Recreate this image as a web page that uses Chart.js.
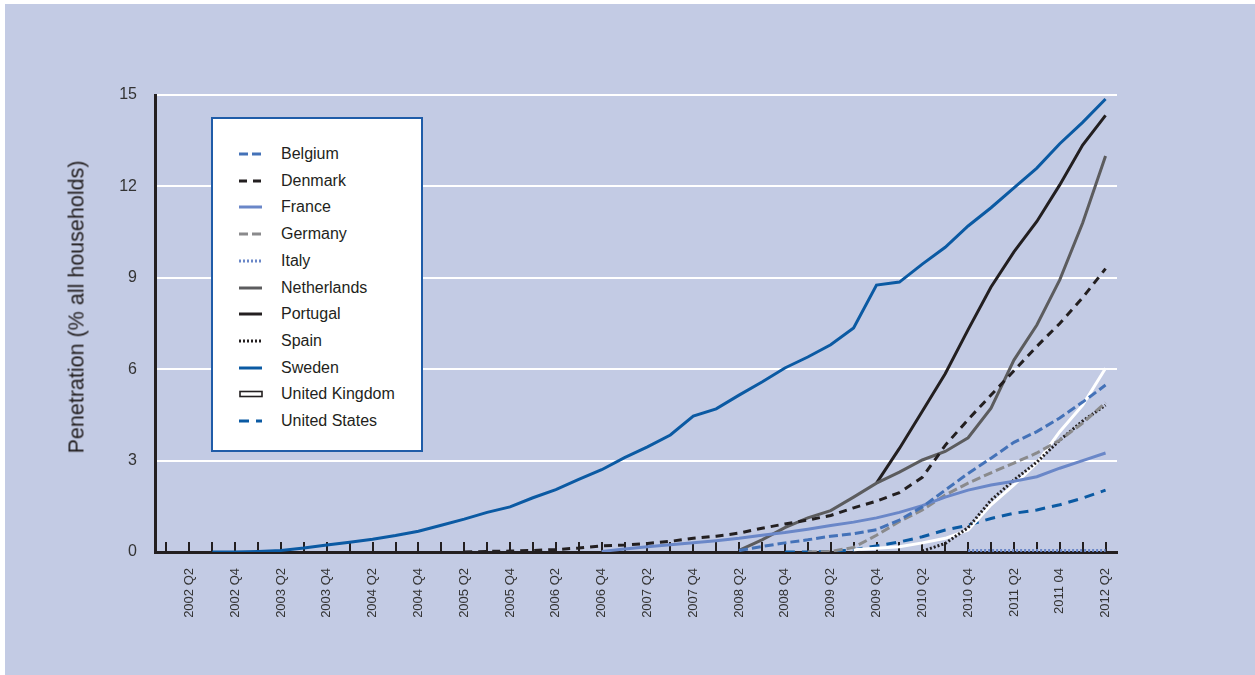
<!DOCTYPE html>
<html>
<head>
<meta charset="utf-8">
<script src="https://cdn.jsdelivr.net/npm/chart.js@4.4.1/dist/chart.umd.min.js"></script>
<style>
  html, body { margin:0; padding:0; background:#ffffff; width:1255px; height:675px; overflow:hidden; }
  #panel { position:absolute; left:5px; top:4px; width:1250px; height:671px; background:#C3CBE4; }
  #c { position:absolute; left:0; top:0; }
  #ytitle { position:absolute; left:77px; top:307px; transform:translate(-50%,-50%) rotate(-90deg);
            font-family:'Liberation Sans', Arial, sans-serif; font-size:21.5px; color:#231F20; white-space:nowrap; }
  #legend { position:absolute; left:211px; top:117px; width:208px; height:331px; background:#ffffff;
            border:2px solid #1F5CA8; font-family:'Liberation Sans', Arial, sans-serif; font-size:16px; color:#231F20; }
  .row { position:absolute; left:0; height:20px; }
  .row svg { position:absolute; left:26px; top:6px; }
  .row span { position:absolute; left:68px; top:0; line-height:20px; white-space:nowrap; }
</style>
</head>
<body>
<div id="panel"></div>
<canvas id="c" width="1255" height="675"></canvas>
<div id="ytitle">Penetration (% all households)</div>
<div id="legend"></div>
<script>
const quarters = [
  '2002 Q1','2002 Q2','2002 Q3','2002 Q4','2003 Q1','2003 Q2','2003 Q3','2003 Q4',
  '2004 Q1','2004 Q2','2004 Q3','2004 Q4','2005 Q1','2005 Q2','2005 Q3','2005 Q4',
  '2006 Q1','2006 Q2','2006 Q3','2006 Q4','2007 Q1','2007 Q2','2007 Q3','2007 Q4',
  '2008 Q1','2008 Q2','2008 Q3','2008 Q4','2009 Q1','2009 Q2','2009 Q3','2009 Q4',
  '2010 Q1','2010 Q2','2010 Q3','2010 Q4','2011 Q1','2011 Q2','2011 Q3','2011 04',
  '2012 Q1','2012 Q2'
];
const yTicks = [0, 3, 6, 9, 12, 15];
const N = null;

const belgium = [N,N,N,N,N,N,N,N,N,N,N,N,N,N,N,N,N,N,N,N,N,N,N,N,N,
  0.05,0.18,0.3,0.4,0.52,0.6,0.73,1.05,1.48,2.03,2.58,3.08,3.6,3.95,4.4,4.92,5.48];
const denmark = [N,N,N,N,N,N,N,N,N,N,N,N,N,
  0.0,0.02,0.03,0.05,0.08,0.13,0.2,0.23,0.28,0.35,0.45,0.52,0.62,0.78,0.92,1.05,1.2,1.45,1.67,1.95,2.45,3.5,4.35,5.15,5.95,6.75,7.5,8.35,9.3];
const france = [N,N,N,N,N,N,N,N,N,N,N,N,N,N,N,N,N,N,N,
  0.02,0.1,0.17,0.24,0.3,0.37,0.45,0.55,0.64,0.75,0.87,0.98,1.12,1.3,1.52,1.8,2.03,2.2,2.32,2.47,2.75,3.0,3.25];
const germany = [N,N,N,N,N,N,N,N,N,N,N,N,N,N,N,N,N,N,N,N,N,N,N,N,N,N,N,N,
  0.0,0.02,0.15,0.55,1.0,1.38,1.87,2.26,2.6,2.92,3.25,3.67,4.23,4.9];
const italy = [N,N,N,N,N,N,N,N,N,N,N,N,N,N,N,N,N,N,N,N,N,N,N,N,N,N,N,N,N,N,N,N,N,N,N,
  0.05,0.05,0.05,0.05,0.05,0.05,0.05];
const netherlands = [N,N,N,N,N,N,N,N,N,N,N,N,N,N,N,N,N,N,N,N,N,N,N,N,N,
  0.05,0.4,0.8,1.12,1.36,1.8,2.26,2.62,3.02,3.3,3.75,4.72,6.3,7.45,8.93,10.8,13.0];
const portugal = [N,N,N,N,N,N,N,N,N,N,N,N,N,N,N,N,N,N,N,N,N,N,N,N,N,N,N,N,N,N,N,
  2.26,3.4,4.62,5.85,7.3,8.7,9.85,10.85,12.05,13.36,14.33];
const spain = [N,N,N,N,N,N,N,N,N,N,N,N,N,N,N,N,N,N,N,N,N,N,N,N,N,N,N,N,N,N,N,N,N,
  0.03,0.28,0.8,1.7,2.36,2.95,3.67,4.3,4.82];
const sweden = [N,N,
  0.0,0.0,0.02,0.05,0.13,0.23,0.32,0.42,0.54,0.68,0.88,1.08,1.3,1.48,1.78,2.05,2.38,2.7,3.1,3.45,3.84,4.46,4.7,5.15,5.58,6.04,6.4,6.8,7.35,8.76,8.86,9.45,10.0,10.7,11.3,11.95,12.6,13.4,14.1,14.87];
const uk = [N,N,N,N,N,N,N,N,N,N,N,N,N,N,N,N,N,N,N,N,N,N,N,N,N,N,N,N,N,N,
  0.07,0.12,0.17,0.3,0.45,0.72,1.55,2.2,2.92,3.95,4.82,6.03];
const us = [N,N,N,N,N,N,N,N,N,N,N,N,N,N,N,N,N,N,N,N,N,N,N,N,N,N,N,
  0.0,0.0,0.02,0.07,0.2,0.33,0.5,0.72,0.88,1.1,1.27,1.38,1.55,1.77,2.03];

const INK = '#231F20';
const FONT = "'Liberation Sans', Arial, sans-serif";

const series = [
  { label:'Belgium',        data:belgium,     color:'#4472B8', dash:[9,4] },
  { label:'Denmark',        data:denmark,     color:INK,       dash:[8,6] },
  { label:'France',         data:france,      color:'#6A87C8', dash:[] },
  { label:'Germany',        data:germany,     color:'#8A8A8C', dash:[9,4] },
  { label:'Italy',          data:italy,       color:'#6A87C8', dash:[2,2] },
  { label:'Netherlands',    data:netherlands, color:'#5C5C5E', dash:[] },
  { label:'Portugal',       data:portugal,    color:INK,       dash:[] },
  { label:'Spain',          data:spain,       color:INK,       dash:[2,2] },
  { label:'Sweden',         data:sweden,      color:'#0B5AA3', dash:[] },
  { label:'United Kingdom', data:uk,          color:'#FFFFFF', dash:[] },
  { label:'United States',  data:us,          color:'#0B5AA3', dash:[10,7] }
];

const datasets = series.map(s => ({
  label: s.label,
  data: s.data,
  borderColor: s.color,
  backgroundColor: s.color,
  borderDash: s.dash,
  borderWidth: 3,
  pointRadius: 0,
  tension: 0,
  fill: false,
  spanGaps: false
}));

const tickMarks = {
  id: 'tickMarks',
  beforeDatasetsDraw(chart) {
    const { ctx, chartArea } = chart;
    const x = chart.scales.x;
    ctx.save();
    ctx.strokeStyle = INK;
    ctx.lineWidth = 2;
    x.ticks.forEach((t, i) => {
      const px = Math.round(x.getPixelForTick(i));
      ctx.beginPath();
      ctx.moveTo(px, chartArea.bottom);
      ctx.lineTo(px, chartArea.bottom - 10);
      ctx.stroke();
    });
    ctx.restore();
  }
};

new Chart(document.getElementById('c').getContext('2d'), {
  type: 'line',
  data: { labels: quarters, datasets },
  plugins: [tickMarks],
  options: {
    responsive: false,
    animation: false,
    layout: { padding: { left: 0, right: 138, top: 95, bottom: 0 } },
    plugins: { legend: { display: false }, tooltip: { enabled: false } },
    scales: {
      x: {
        type: 'category',
        offset: true,
        grid: { display: false, drawTicks: false },
        border: { display: true, color: INK, width: 3 },
        ticks: {
          autoSkip: false, maxRotation: 90, minRotation: 90, padding: 16,
          color: '#333333', font: { size: 13, family: FONT },
          callback: (v, i) => (i % 2 === 1 ? quarters[i] : '')
        },
        afterFit: s => { s.height = 675 - 552; }
      },
      y: {
        min: 0, max: 15,
        afterBuildTicks: s => { s.ticks = yTicks.map(v => ({ value: v })); },
        grid: { color: '#FFFFFF', lineWidth: 2, drawTicks: false },
        border: { display: true, color: INK, width: 3 },
        ticks: { padding: 18, color: '#333333', font: { size: 16, family: FONT } },
        afterFit: s => { s.width = 155; }
      }
    }
  }
});

// HTML legend built from the datasets
const legend = document.getElementById('legend');
series.forEach((s, i) => {
  const row = document.createElement('div');
  row.className = 'row';
  row.style.top = (35 + i * 26.7 - 10) + 'px';
  row.style.width = '100%';
  let svg;
  if (s.color === '#FFFFFF') {
    svg = '<svg width="24" height="8"><rect x="1" y="1.5" width="22" height="5" fill="#fff" stroke="' + INK + '" stroke-width="1.6"/></svg>';
  } else {
    svg = '<svg width="24" height="8"><line x1="0" y1="4" x2="23" y2="4" stroke="' + s.color +
      '" stroke-width="3" stroke-dasharray="' + (s.dash.length ? s.dash.join(',') : 'none') + '"/></svg>';
  }
  row.innerHTML = svg + '<span>' + s.label + '</span>';
  legend.appendChild(row);
});
</script>
</body>
</html>
